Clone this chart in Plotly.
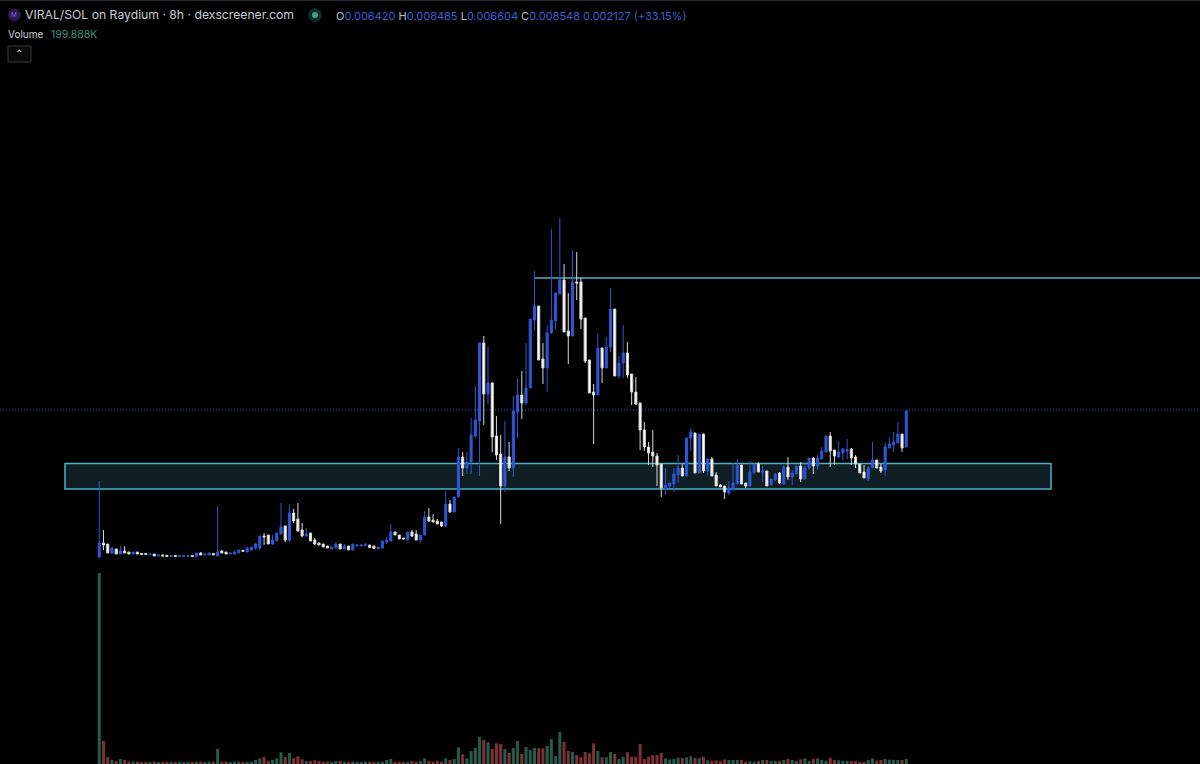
import plotly.graph_objects as go

# Prices, in price ticks above a base level
PRICE_TICK = 5.6e-5
PRICE_BASE = 0.000148
VOL_TICK_K = 40.0

opens = [3,17,16,7,11,6,9,8,6,8,
 6.5,6.5,5,6,4,5,4.7,3.5,4.5,3.5,
 3.5,3.5,4.5,3.5,7,5,5,6.5,4,9,
 8,6,6,7,9.7,8,10,12,12,24,
 25,16,19,26,34,20,47,41,30,24,
 27,20,17,16,14,11,12,16,11,14,
 10,14,14,14.5,15,14,11,12,18,19,
 28,25,22,20,28,26,20,25,43,40,
 39,38,34,56,48,63,103,92,98,124,
 139,217,166,177,124,106,74,103,92,148,
 165,157,172,240,254,201,192,227,239,266,
 280,229,224,278,278,242,200,168,165,212,
 192,213,251,184,197,207,186,168,157,130,
 113,108,104,96,71,74,76,85,92,84,
 122,127,87,126,89,101,85,75,74,67,
 70,76,95,77,74,87,96,88,89,75,
 80,87,76,93,83,86,94,81,92,102,
 94,101,108,124,110,103,107,109,111,103,
 96,88,81,92,100,93,90,112,115,117,
 126,113]
highs = [79,30,16,13,11,14,14,8,8,8,
 6.5,6.5,6,6,5,5,4.7,4.5,4.5,4.5,
 4.5,4.5,4.5,7,8,6,7,6.5,54,10,
 8,7,10,10,9.7,13,13,17,24,27,
 25,25,27,57,34,56,51,57,37,32,
 27,22,17,16,14,13,18,16,16,14,
 16,15,15,17,15,14,13,19,23,36,
 28,25,22,28,30,30,25,49,52,46,
 41,38,69,60,63,112,108,108,142,174,
 217,224,213,178,144,125,139,118,164,182,
 189,217,241,289,254,217,235,331,267,342,
 296,267,310,308,282,242,200,176,227,212,
 223,272,251,204,235,218,186,183,157,138,
 118,130,107,96,92,77,92,105,96,122,
 132,127,126,126,101,103,88,76,74,79,
 97,101,95,77,99,96,98,94,89,81,
 87,88,95,103,90,94,98,98,102,103,
 105,113,124,128,110,119,112,121,112,105,
 96,95,94,118,100,96,117,123,128,138,
 126,150]
lows = [2,10,7,6,6,6,7,6,6,6,
 5.5,5.5,5,4,4,4,3.5,3.5,3.5,3.5,
 3.5,3.5,3.5,3.5,5,5,5,5,4,7,
 6,6,6,7,8.7,8,10,10,10,15,
 16,15,19,26,18,18,37,29,23,24,
 19,15,15,13,12,11,12,11,11,10,
 10,14,14,14.5,12,11.5,11,12,16,19,
 25,21,21,20,23,20,17,25,38,38,
 36,33,33,47,48,63,84,86,86,122,
 84,135,156,108,100,36,68,89,83,122,
 141,155,172,230,200,176,168,226,230,266,
 228,196,224,260,231,197,167,116,165,177,
 192,208,184,181,182,182,155,155,110,109,
 95,93,74,63,65,72,68,77,84,84,
 109,87,87,87,85,84,74,73,61,65,
 70,76,76,72,74,87,88,78,74,75,
 79,76,75,80,75,86,78,81,90,86,
 90,101,108,93,95,102,100,101,95,92,
 87,82,79,92,92,87,84,112,108,117,
 108,113]
closes = [17,15,7,12,6,9,7,6,8,6,
 5.5,5.5,6,4,5,4,3.5,4.5,3.5,4.5,
 4.5,4.5,3.5,7,5,6,7,5,8,7,
 6,7,8,10,8.7,12,13,16,24,23,
 16,20,27,33,20,47,39,29,24,26,
 19,16,15,13,12,13,16,11,14,10,
 16,15,15,15,12.5,11.5,13,19,20,28,
 25,21,21,28,24,20,25,43,39,38,
 36,34,56,48,63,103,92,98,125,140,
 217,166,177,123,105,74,103,92,149,165,
 157,172,241,254,200,192,227,240,267,280,
 228,224,278,277,241,199,167,165,212,192,
 213,251,184,197,207,185,168,156,130,113,
 107,104,95,72,75,77,86,92,84,122,
 128,87,126,89,101,84,74,73,68,72,
 77,95,76,74,88,96,88,89,74,81,
 86,77,93,83,87,94,81,92,102,94,
 102,109,124,109,104,108,111,110,102,96,
 87,82,92,100,92,89,113,116,118,126,
 112,149]
volumes = [191,23,7,4,3,5,4,2.5,2.3,2.5,
 2,2,2,2.5,1.8,1.7,1.7,1.7,1.7,1.7,
 1.7,1.7,1.7,2.3,2.5,1.7,2.3,2.3,15,2.3,
 2.5,1.7,2.3,2.3,1.7,2.3,2.3,4,5.7,7,
 3,4,5.7,11.7,7,11,5.7,7.7,4.7,3,
 3,3.7,3,2,2.5,2.3,3,3,2.3,2,
 2.3,1.7,1.7,2.3,2.3,1.7,2.3,2.3,4,5,
 1.7,2.3,1.7,2.3,3,2.3,3,5.7,3,2.3,
 3,2.3,5.7,4,5,16.7,9.7,5.7,13,16,
 27,24,21.7,15,20.7,20,15,11,16,23,
 10,17,14,16,15.7,15.7,18,25,8,32,
 22,13,12,9,6.7,12,10.7,20.7,13,6.7,
 6.7,12,10,5,7.3,11.7,7.3,7.3,20,5,
 7.3,9,9,11,5.7,4.7,5,6.3,6,6.7,
 7.7,6,6,7,3.7,3.3,3.7,3,4.7,4,
 4,4,4,2.3,2.7,2.3,3,4,4,3,
 3,3,4,5,4,3,4.7,5.7,3,5.3,
 5.7,4,3.3,6.3,4,3.7,3,3,3,3,
 2,2,4,5.7,3.3,4,5,4.3,4,4,
 4,5]

ZONE_LEVELS = (71, 96.5)
RESISTANCE_LEVEL = 282
LAST_LEVEL = 150

def price(v):
    return PRICE_TICK * v + PRICE_BASE

idx = list(range(len(opens)))
BLUE = "#2f56d6"
WHITE = "#ffffff"
TEAL = "#48b2c6"
GREEN_V = "#27594d"
RED_V = "#7b3135"
vol_colors = [GREEN_V if c >= o else RED_V for o, c in zip(opens, closes)]

px = 4.225
x0 = -99.3 / px
x1 = (1200 - 99.3) / px

fig = go.Figure()
fig.add_trace(go.Bar(
    x=idx, y=[v * VOL_TICK_K for v in volumes], yaxis="y2",
    marker=dict(color=vol_colors, line=dict(width=0)), width=0.72,
    hoverinfo="skip", showlegend=False,
))
fig.add_trace(go.Candlestick(
    x=idx,
    open=[price(v) for v in opens], high=[price(v) for v in highs],
    low=[price(v) for v in lows], close=[price(v) for v in closes],
    increasing=dict(line=dict(color=BLUE, width=1), fillcolor=BLUE),
    decreasing=dict(line=dict(color="#d8d8d8", width=1), fillcolor=WHITE),
    whiskerwidth=0, showlegend=False, yaxis="y",
))

shapes = [
    dict(type="rect", xref="x", yref="y", x0=(65 - 99.3) / px, x1=(1051 - 99.3) / px,
         y0=price(ZONE_LEVELS[0]), y1=price(ZONE_LEVELS[1]),
         fillcolor="#0f1e22", line=dict(color=TEAL, width=1.5), layer="below"),
    dict(type="line", xref="x", yref="y", x0=103, x1=x1,
         y0=price(RESISTANCE_LEVEL), y1=price(RESISTANCE_LEVEL),
         line=dict(color=TEAL, width=1.5), layer="below"),
    dict(type="line", xref="paper", yref="y", x0=0, x1=1,
         y0=price(LAST_LEVEL), y1=price(LAST_LEVEL),
         line=dict(color="#2f56d6", width=1, dash="1px,2px"), layer="below"),
    # header furniture, in paper coordinates
    dict(type="line", xref="paper", yref="paper", x0=0, x1=1, y0=0.9995, y1=0.9995,
         line=dict(color="#2a2e33", width=1)),
    dict(type="circle", xref="paper", yref="paper", x0=8 / 1200, x1=21 / 1200,
         y0=1 - 21.5 / 764, y1=1 - 8.5 / 764, fillcolor="#2a1a4a", line=dict(width=0)),
    dict(type="circle", xref="paper", yref="paper", x0=308 / 1200, x1=322 / 1200,
         y0=1 - 22 / 764, y1=1 - 8 / 764, fillcolor="#0f2a24", line=dict(width=0)),
    dict(type="circle", xref="paper", yref="paper", x0=312 / 1200, x1=318 / 1200,
         y0=1 - 18 / 764, y1=1 - 12 / 764, fillcolor="#3f9f86", line=dict(width=0)),
    dict(type="rect", xref="paper", yref="paper", x0=8 / 1200, x1=31 / 1200,
         y0=1 - 62 / 764, y1=1 - 46 / 764, fillcolor="#0a0a0a",
         line=dict(color="#33363b", width=1)),
]

FONT = "Inter, Roboto, sans-serif"
def label(x, y, text, size=12, color="#c9ccd3", family=FONT):
    return dict(xref="paper", yref="paper", x=x / 1200, y=1 - y / 764, text=text,
                showarrow=False, xanchor="left", yanchor="middle",
                font=dict(size=size, color=color, family=family), align="left",
                borderpad=0, borderwidth=0)

def ohlc_text():
    g = "#b8bbc2"; b = "#3a5fd0"
    return (f'<span style="color:{g}">O</span><span style="color:{b}">0.006420</span> '
            f'<span style="color:{g}">H</span><span style="color:{b}">0.008485</span> '
            f'<span style="color:{g}">L</span><span style="color:{b}">0.006604</span> '
            f'<span style="color:{g}">C</span><span style="color:{b}">0.008548</span> '
            f'<span style="color:{b}">0.002127 (+33.15%)</span>')

annotations = [
    label(25, 15, "VIRAL/SOL on Raydium · 8h · dexscreener.com", 12.2),
    label(336, 15.5, ohlc_text(), 11),
    label(8, 34, "Volume", 10),
    label(51, 34, "199.888K", 10.5, "#3d8f79"),
    label(15, 54, "⌃", 10, "#d0d3d8", "DejaVu Sans"),
    label(11, 15, "M", 6.5, "#8a5cf0"),
]

fig.update_layout(
    width=1200, height=764, margin=dict(l=0, r=0, t=0, b=0),
    paper_bgcolor="#000000", plot_bgcolor="#000000",
    xaxis=dict(range=[x0, x1], visible=False, rangeslider=dict(visible=False), fixedrange=True),
    yaxis=dict(range=[price(-204), price(560)], visible=False, fixedrange=True),
    yaxis2=dict(range=[0, 764 * VOL_TICK_K], visible=False, overlaying="y", fixedrange=True),
    shapes=shapes, annotations=annotations, showlegend=False, bargap=0.3,
)

fig.write_html("out.html", config=dict(displayModeBar=False),
               post_script="document.body.style.margin='0';document.body.style.background='#000';")
